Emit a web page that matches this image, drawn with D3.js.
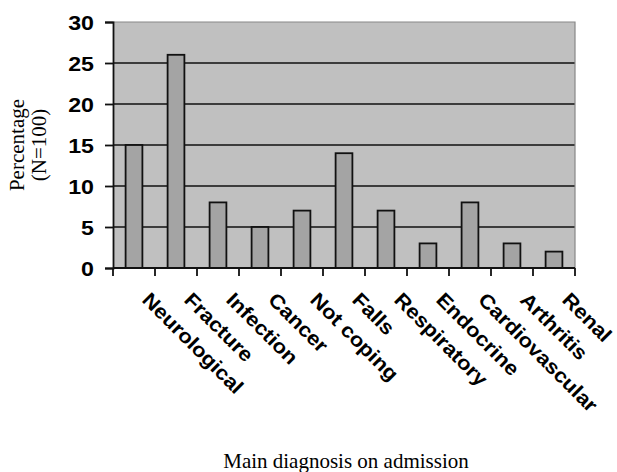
<!DOCTYPE html>
<html>
<head>
<meta charset="utf-8">
<script src="https://cdn.jsdelivr.net/npm/d3@7"></script>
<style>
  body { margin: 0; background: #fff; }
  svg { display: block; }
</style>
</head>
<body>
<div id="chart"></div>
<script>
// data
var diagnoses = ['Neurological', 'Fracture', 'Infection', 'Cancer', 'Not coping', 'Falls',
                 'Respiratory', 'Endocrine', 'Cardiovascular', 'Arthritis', 'Renal'];
var percentages = [15, 26, 8, 5, 7, 14, 7, 3, 8, 3, 2];
var yTicks = [0, 5, 10, 15, 20, 25, 30];

var margin = {top: 22, right: 42, bottom: 204, left: 113},
    width = 617 - margin.left - margin.right,
    height = 472 - margin.top - margin.bottom;

// the labels in the reference are a wide bold sans
var labelFont = '"Liberation Sans", Arial, sans-serif';
var stretch = 1.16;

var svg = d3.select('#chart')
    .append('svg')
        .attr('width', 617)
        .attr('height', 472)
    .append('g')
        .attr('transform', 'translate(' + margin.left + ',' + margin.top + ')');

var x = d3.scaleBand()
    .domain(diagnoses)
    .range([0, width]);

var y = d3.scaleLinear()
    .domain([0, 30])
    .range([height, 0]);

// plot background
svg.append('rect')
    .attr('width', width)
    .attr('height', height)
    .style('fill', '#c0c0c0');

// gridlines
svg.append('g')
    .selectAll('line')
    .data(yTicks.filter(d => d > 0 && d < 30))
    .enter()
    .append('line')
    .attr('x1', 0)
    .attr('x2', width)
    .attr('y1', d => y(d))
    .attr('y2', d => y(d))
    .style('stroke', '#111')
    .style('stroke-width', 1.6);

// top and right border
svg.append('path')
    .attr('d', 'M0,' + y(30) + 'H' + width + 'V' + y(0))
    .style('fill', 'none')
    .style('stroke', '#888')
    .style('stroke-width', 1.2);

// bars
var barW = x.bandwidth() * 0.4;
svg.append('g')
    .selectAll('rect')
    .data(percentages)
    .enter()
    .append('rect')
    .attr('x', (d, i) => x(diagnoses[i]) + x.bandwidth() / 2 - barW / 2)
    .attr('y', d => y(d))
    .attr('width', barW)
    .attr('height', d => y(0) - y(d))
    .style('fill', '#a4a4a4')
    .style('stroke', '#111')
    .style('stroke-width', 1.8);

// y axis
var yAxis = d3.axisLeft(y)
    .tickValues(yTicks)
    .tickSize(8);

var yG = svg.append('g')
    .attr('class', 'y-axis')
    .call(yAxis);
yG.select('.domain').style('stroke', '#111').style('stroke-width', 1.8);
yG.selectAll('.tick line').style('stroke', '#111').style('stroke-width', 1.8);
yG.selectAll('.tick text')
    .attr('x', null)
    .attr('dy', '0.36em')
    .attr('transform', 'translate(-19,0) scale(' + stretch + ',1)')
    .style('font-family', labelFont)
    .style('font-weight', 'bold')
    .style('font-size', '20px')
    .style('fill', '#000');

// x axis, ticks at the band edges
var edges = diagnoses.map(d => x(d)).concat([width]);
var xG = svg.append('g')
    .attr('class', 'x-axis')
    .attr('transform', 'translate(0,' + height + ')');
xG.append('line')
    .attr('x1', 0)
    .attr('x2', width)
    .style('stroke', '#111')
    .style('stroke-width', 1.8);
xG.selectAll('.edge')
    .data(edges)
    .enter()
    .append('line')
    .attr('class', 'edge')
    .attr('x1', d => d)
    .attr('x2', d => d)
    .attr('y1', 0)
    .attr('y2', 8)
    .style('stroke', '#111')
    .style('stroke-width', 1.8);

xG.selectAll('.lbl')
    .data(diagnoses)
    .enter()
    .append('text')
    .attr('class', 'lbl')
    .attr('transform', d => 'translate(' + (x(d) + x.bandwidth() / 2 + 7) + ',33) rotate(45) scale(1.1,1)')
    .style('font-family', labelFont)
    .style('font-weight', 'bold')
    .style('font-size', '20px')
    .style('text-anchor', 'start')
    .text(d => d);

// axis titles
var yTitle = svg.append('text')
    .attr('transform', 'translate(-89,' + (height / 2) + ') rotate(-90)')
    .style('font-family', '"Liberation Serif", "Times New Roman", serif')
    .style('font-size', '21px')
    .style('text-anchor', 'middle');
yTitle.append('tspan').attr('x', 0).attr('y', 0).text('Percentage');
yTitle.append('tspan').attr('x', 0).attr('y', 22).text('(N=100)');

svg.append('text')
    .attr('x', width / 2 + 2)
    .attr('y', height + 200)
    .style('font-family', '"Liberation Serif", "Times New Roman", serif')
    .style('font-size', '21px')
    .style('text-anchor', 'middle')
    .text('Main diagnosis on admission');
</script>
</body>
</html>
